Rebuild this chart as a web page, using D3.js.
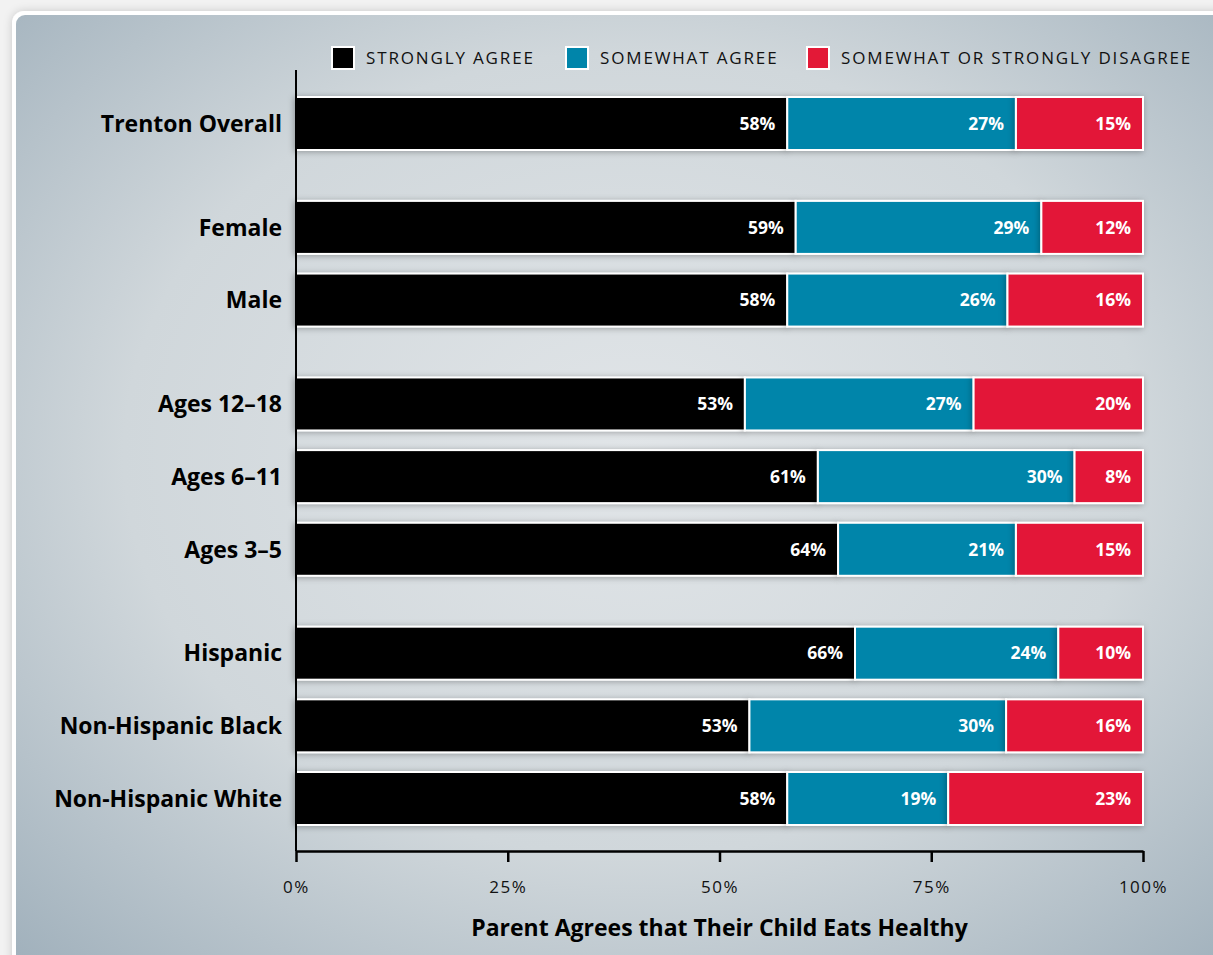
<!DOCTYPE html>
<html>
<head>
<meta charset="utf-8">
<script src="https://cdn.jsdelivr.net/npm/d3@7"></script>
<style>
  html, body { margin: 0; padding: 0; background: #f2f2f2; }
  svg { display: block; }
  text { font-family: "Open Sans", "Noto Sans", sans-serif; }
</style>
</head>
<body>
<script>
// Survey rows, grouped (gaps are drawn between groups)
const groups = [
  ["Trenton Overall"],
  ["Female", "Male"],
  ["Ages 12–18", "Ages 6–11", "Ages 3–5"],
  ["Hispanic", "Non-Hispanic Black", "Non-Hispanic White"]
];
const categories = groups.flat();

const seriesNames = ["STRONGLY AGREE", "SOMEWHAT AGREE", "SOMEWHAT OR STRONGLY DISAGREE"];
const seriesColors = ["#000000", "#0085aa", "#e31937"];

const stronglyAgree = [58, 59, 58, 53, 61, 64, 66, 53, 58];
const somewhatAgree = [27, 29, 26, 27, 30, 21, 24, 30, 19];
const disagree      = [15, 12, 16, 20, 8, 15, 10, 16, 23];

const tickValues = [0, 0.25, 0.5, 0.75, 1];
const axisTitle = "Parent Agrees that Their Child Eats Healthy";

const W = 1213, H = 955;
const svg = d3.select("body").append("svg").attr("width", W).attr("height", H);
const defs = svg.append("defs");

// panel background
const grad = defs.append("radialGradient").attr("id", "panelGrad")
  .attr("cx", "50%").attr("cy", "45%").attr("r", "75%");
grad.append("stop").attr("offset", "0%").attr("stop-color", "#e1e5e8");
grad.append("stop").attr("offset", "55%").attr("stop-color", "#d0d7db");
grad.append("stop").attr("offset", "100%").attr("stop-color", "#9cadb9");

const panelShadow = defs.append("filter").attr("id", "panelShadow")
  .attr("x", "-5%").attr("y", "-5%").attr("width", "110%").attr("height", "110%");
panelShadow.append("feDropShadow").attr("dx", 0).attr("dy", 0).attr("stdDeviation", 4)
  .attr("flood-color", "#000").attr("flood-opacity", 0.18);

const barShadow = defs.append("filter").attr("id", "barShadow")
  .attr("x", "-10%").attr("y", "-30%").attr("width", "120%").attr("height", "160%");
barShadow.append("feDropShadow").attr("dx", -1).attr("dy", 1).attr("stdDeviation", 3)
  .attr("flood-color", "#000").attr("flood-opacity", 0.3);

svg.append("rect").attr("x", 12).attr("y", 11).attr("width", W + 20).attr("height", H + 20)
  .attr("rx", 12).attr("fill", "#ffffff").attr("filter", "url(#panelShadow)");
svg.append("rect").attr("x", 16).attr("y", 15).attr("width", W + 20).attr("height", H + 20)
  .attr("rx", 9).attr("fill", "url(#panelGrad)");

// scales
const x = d3.scaleLinear().domain([0, 1]).range([296, 1143]);

const gapSlots = 0.43;
const slotOf = {};
let idx = 0;
groups.forEach((g, gi) => g.forEach(c => { slotOf[c] = idx + gi * gapSlots; idx++; }));
const lastSlot = idx - 1 + (groups.length - 1) * gapSlots;
const y = d3.scaleLinear().domain([0, lastSlot]).range([123.5, 798.5]);
const barH = 53;

// stacked data, each row expanded to its own total
const table = categories.map((c, i) => ({
  cat: c, s0: stronglyAgree[i], s1: somewhatAgree[i], s2: disagree[i]
}));
const stack = d3.stack().keys(["s0", "s1", "s2"]).offset(d3.stackOffsetExpand);
const stacked = stack(table);

const bars = svg.append("g");
stacked.forEach((layer, li) => {
  const g = bars.append("g");
  layer.forEach(d => {
    const cy = y(slotOf[d.data.cat]);
    g.append("rect")
      .attr("x", x(d[0]))
      .attr("y", cy - barH / 2)
      .attr("width", x(d[1]) - x(d[0]))
      .attr("height", barH)
      .attr("fill", seriesColors[li])
      .attr("stroke", "#ffffff")
      .attr("stroke-width", 2)
      .attr("filter", "url(#barShadow)");
  });
});

// value labels
stacked.forEach((layer, li) => {
  layer.forEach(d => {
    const cy = y(slotOf[d.data.cat]);
    svg.append("text")
      .attr("x", x(d[1]) - 12)
      .attr("y", cy)
      .attr("dy", "0.36em")
      .attr("text-anchor", "end")
      .attr("fill", "#ffffff")
      .attr("font-size", 17.5)
      .attr("font-weight", 700)
      .text(d.data[layer.key] + "%");
  });
});

// category labels
categories.forEach(c => {
  svg.append("text")
    .attr("x", 282)
    .attr("y", y(slotOf[c]))
    .attr("dy", "0.36em")
    .attr("text-anchor", "end")
    .attr("font-size", 23)
    .attr("font-weight", 700)
    .attr("fill", "#000")
    .text(c);
});

// axes
svg.append("line").attr("x1", x(0)).attr("x2", x(0)).attr("y1", 70).attr("y2", 851)
  .attr("stroke", "#000").attr("stroke-width", 2);

const xAxis = d3.axisBottom(x).tickValues(tickValues).tickFormat(d3.format(".0%"))
  .tickSize(11).tickSizeOuter(0).tickPadding(19);
const ax = svg.append("g").attr("transform", "translate(0,851)").call(xAxis);
ax.select(".domain").attr("stroke", "#000").attr("stroke-width", 2.5);
ax.selectAll(".tick line").attr("stroke", "#000").attr("stroke-width", 2.5);
ax.selectAll(".tick text").attr("font-size", 17).attr("letter-spacing", 1.5).attr("fill", "#111")
  .attr("font-family", "\"Open Sans\", \"Noto Sans\", sans-serif");

svg.append("text")
  .attr("x", (x(0) + x(1)) / 2)
  .attr("y", 936)
  .attr("text-anchor", "middle")
  .attr("font-size", 23)
  .attr("font-weight", 700)
  .attr("fill", "#000")
  .text(axisTitle);

// legend
const legendX = [332, 566, 807];
const legend = svg.append("g");
seriesNames.forEach((n, i) => {
  legend.append("rect").attr("x", legendX[i]).attr("y", 47).attr("width", 22).attr("height", 22)
    .attr("fill", seriesColors[i]).attr("stroke", "#fff").attr("stroke-width", 2);
  legend.append("text").attr("x", legendX[i] + 34).attr("y", 58).attr("dy", "0.36em")
    .attr("font-size", 17).attr("letter-spacing", 1.85).attr("fill", "#111")
    .text(n);
});
</script>
</body>
</html>
